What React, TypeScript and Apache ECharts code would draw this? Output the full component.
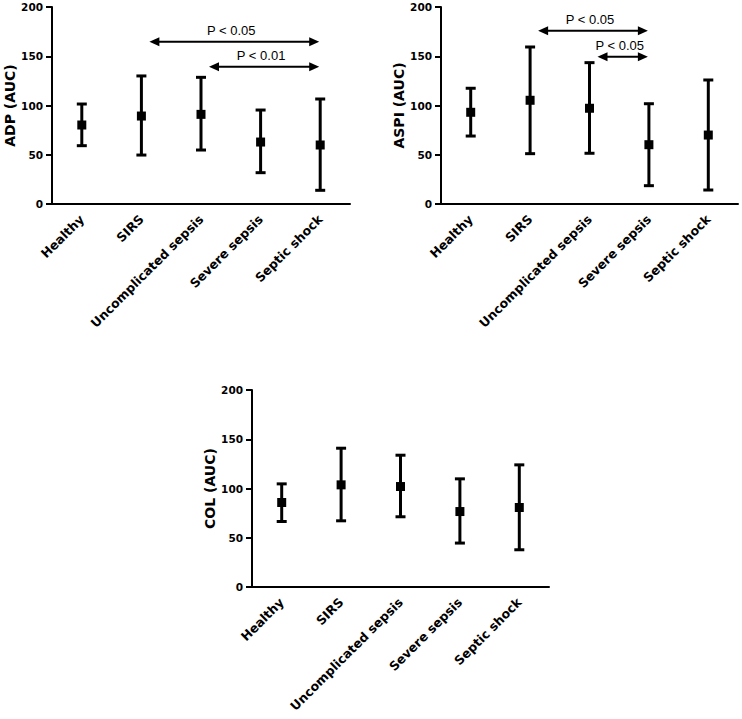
import React, { useEffect, useRef } from "react";
import * as echarts from "echarts";

const categories = ["Healthy", "SIRS", "Uncomplicated sepsis", "Severe sepsis", "Septic shock"];
const yTicks = [0, 50, 100, 150, 200];

const adpMean = [80.2, 89.3, 91, 62.9, 59.9];
const adpUpper = [101.5, 130, 128.6, 95.4, 106.6];
const adpLower = [59.2, 49.7, 54.8, 31.8, 13.9];

const aspiMean = [93.1, 105.3, 97.2, 60.2, 70];
const aspiUpper = [117.5, 159.4, 143.5, 101.8, 125.9];
const aspiLower = [69, 51.1, 51.5, 18.6, 14.2];

const colMean = [85.8, 103.7, 102, 76.6, 80.7];
const colUpper = [104.7, 140.9, 133.8, 109.8, 124];
const colLower = [66.5, 67.2, 71.3, 44.6, 37.8];

const adpSigFrom = ["SIRS", "Uncomplicated sepsis"];
const adpSigTo = ["Septic shock", "Septic shock"];
const adpSigY = [164.8, 139.4];
const adpSigLabel = ["P < 0.05", "P < 0.01"];

const aspiSigFrom = ["SIRS", "Uncomplicated sepsis"];
const aspiSigTo = ["Severe sepsis", "Severe sepsis"];
const aspiSigY = [175.9, 149.6];
const aspiSigLabel = ["P < 0.05", "P < 0.05"];

const panelNames = ["ADP (AUC)", "ASPI (AUC)", "COL (AUC)"];

export default function App() {
  const ref = useRef<HTMLDivElement>(null);
  useEffect(() => {
    if (!ref.current) return;
    const chart = echarts.init(ref.current, undefined, { renderer: "svg" });

    const grids = [
      { left: 52, top: 7, width: 298, height: 197 },
      { left: 441, top: 7, width: 297, height: 197 },
      { left: 252, top: 390, width: 297, height: 197 },
    ];

    const xAxes = grids.map((_, i) => ({
      type: "category",
      gridIndex: i,
      data: categories,
      boundaryGap: true,
      axisLine: { lineStyle: { color: "#000", width: 2 } },
      axisTick: { alignWithLabel: true, length: 6, lineStyle: { color: "#000", width: 2 } },
      axisLabel: {
        interval: 0,
        rotate: 45,
        margin: 13,
        color: "#000",
        fontFamily: "DejaVu Sans",
        fontWeight: "bold",
        fontSize: 12.5,
      },
    }));

    const yAxes = grids.map((_, i) => ({
      type: "value",
      gridIndex: i,
      min: yTicks[0],
      max: yTicks[yTicks.length - 1],
      interval: yTicks[1] - yTicks[0],
      name: panelNames[i],
      nameLocation: "middle",
      nameGap: 33,
      nameTextStyle: {
        color: "#000",
        fontFamily: "DejaVu Sans",
        fontWeight: "bold",
        fontSize: 14,
      },
      splitLine: { show: false },
      axisLine: { show: true, lineStyle: { color: "#000", width: 2 } },
      axisTick: { show: true, length: 6, lineStyle: { color: "#000", width: 2 } },
      axisLabel: {
        margin: 9,
        color: "#000",
        fontFamily: "DejaVu Sans",
        fontWeight: "bold",
        fontSize: 10.5,
      },
    }));

    const errSeries = (i: number, mean: number[], lower: number[], upper: number[]) => ({
      type: "custom",
      xAxisIndex: i,
      yAxisIndex: i,
      encode: { x: 0, y: [1, 2, 3] },
      data: categories.map((_, k) => [k, lower[k], upper[k], mean[k]]),
      renderItem: (params: any, api: any) => {
        const x = api.value(0);
        const lo = api.coord([x, api.value(1)]);
        const hi = api.coord([x, api.value(2)]);
        const mid = api.coord([x, api.value(3)]);
        const cap = 5;
        const sq = 4.5;
        const st = { stroke: "#000", lineWidth: 3, fill: "none" };
        return {
          type: "group",
          children: [
            { type: "line", shape: { x1: lo[0], y1: lo[1], x2: hi[0], y2: hi[1] }, style: st },
            { type: "line", shape: { x1: lo[0] - cap, y1: lo[1], x2: lo[0] + cap, y2: lo[1] }, style: st },
            { type: "line", shape: { x1: hi[0] - cap, y1: hi[1], x2: hi[0] + cap, y2: hi[1] }, style: st },
            { type: "rect", shape: { x: mid[0] - sq, y: mid[1] - sq, width: sq * 2, height: sq * 2 }, style: { fill: "#000" } },
          ],
        };
      },
    });

    const sigSeries = (i: number, from: string[], to: string[], ys: number[], labels: string[]) => ({
      type: "custom",
      xAxisIndex: i,
      yAxisIndex: i,
      encode: { x: [0, 1], y: 2 },
      data: from.map((f, k) => [categories.indexOf(f), categories.indexOf(to[k]), ys[k]]),
      renderItem: (params: any, api: any) => {
        const a = api.coord([api.value(0), api.value(2)]);
        const b = api.coord([api.value(1), api.value(2)]);
        const xl = a[0] + 8;
        const xr = b[0] - 1;
        const y = a[1];
        const hl = 10;
        const hh = 4.5;
        return {
          type: "group",
          children: [
            { type: "line", shape: { x1: xl + hl - 1, y1: y, x2: xr - hl + 1, y2: y }, style: { stroke: "#000", lineWidth: 2 } },
            { type: "polygon", shape: { points: [[xl, y], [xl + hl, y - hh], [xl + hl, y + hh]] }, style: { fill: "#000" } },
            { type: "polygon", shape: { points: [[xr, y], [xr - hl, y - hh], [xr - hl, y + hh]] }, style: { fill: "#000" } },
            {
              type: "text",
              style: {
                text: labels[params.dataIndex],
                x: (xl + xr) / 2 - 3,
                y: y - 5,
                align: "center",
                verticalAlign: "bottom",
                fill: "#000",
                fontFamily: "Liberation Sans",
                fontSize: 13,
              },
            },
          ],
        };
      },
    });

    chart.setOption({
      animation: false,
      backgroundColor: "#fff",
      grid: grids,
      xAxis: xAxes,
      yAxis: yAxes,
      series: [
        errSeries(0, adpMean, adpLower, adpUpper),
        errSeries(1, aspiMean, aspiLower, aspiUpper),
        errSeries(2, colMean, colLower, colUpper),
        sigSeries(0, adpSigFrom, adpSigTo, adpSigY, adpSigLabel),
        sigSeries(1, aspiSigFrom, aspiSigTo, aspiSigY, aspiSigLabel),
      ],
    });
    return () => chart.dispose();
  }, []);
  return (
    <div
      ref={ref}
      style={{ position: "absolute", left: 0, top: 0, width: 742, height: 719 }}
    />
  );
}
